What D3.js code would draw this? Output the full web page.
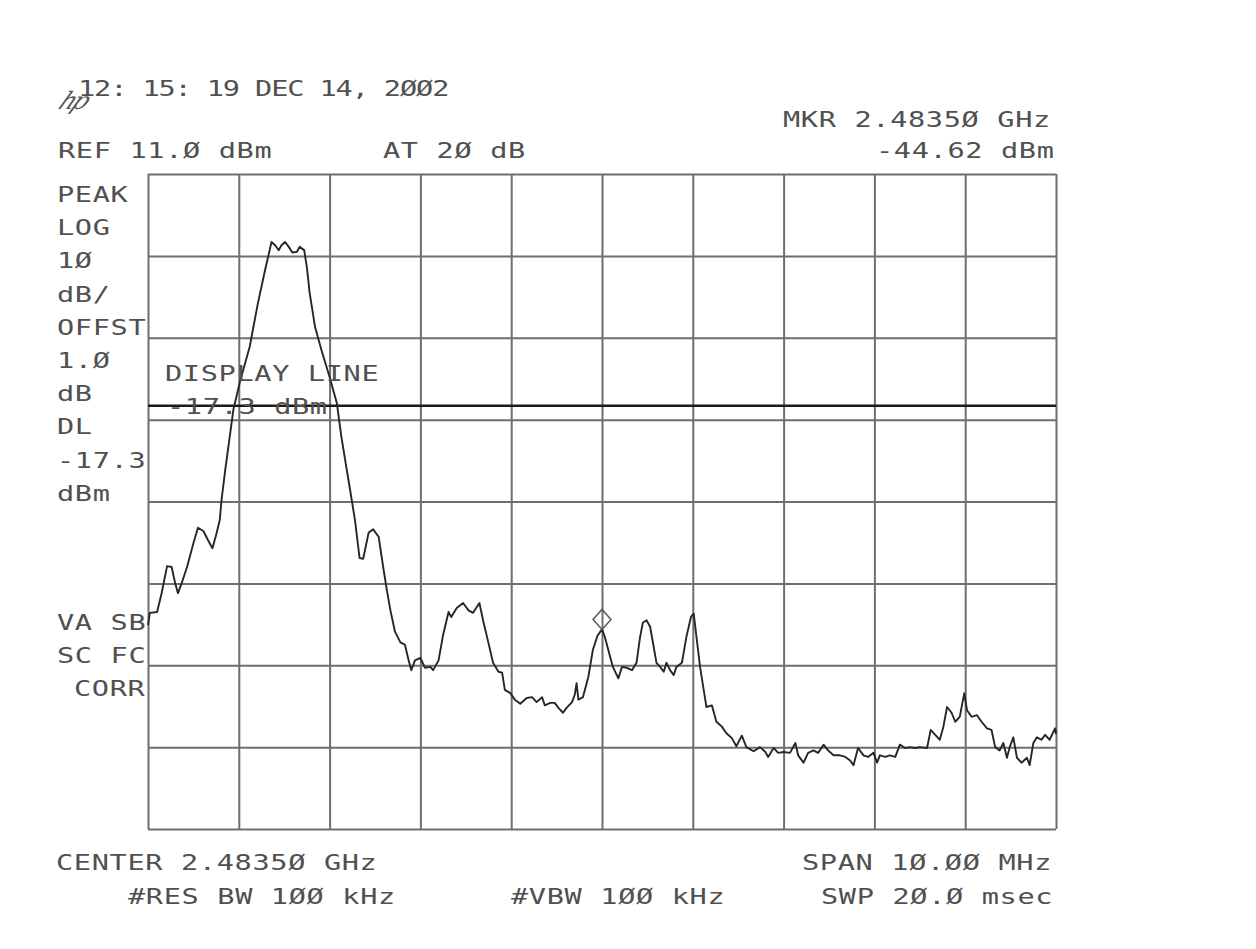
<!DOCTYPE html>
<html>
<head>
<meta charset="utf-8">
<script src="https://cdn.jsdelivr.net/npm/d3@7"></script>
<style>
  body { margin: 0; background: #ffffff; }
  svg { display: block; }
  .lbl { font-family: "DejaVu Sans Mono", "Liberation Mono", monospace; font-size: 22px; fill: #505050; letter-spacing: 0.5px; }
</style>
</head>
<body>
<svg id="chart" width="1256" height="949"></svg>
<script>
// Swept spectrum trace: frequency (MHz) and level (dBm)
const traceFreqMHz = [
  2478.50, 2478.52, 2478.60, 2478.65, 2478.71, 2478.76, 2478.80, 2478.83, 2478.87, 2478.93,
  2479.00, 2479.05, 2479.11, 2479.16, 2479.21, 2479.25, 2479.29, 2479.31, 2479.35, 2479.44,
  2479.51, 2479.62, 2479.71, 2479.79, 2479.84, 2479.86, 2479.90, 2479.94, 2479.97, 2480.01,
  2480.05, 2480.09, 2480.14, 2480.17, 2480.22, 2480.25, 2480.28, 2480.34, 2480.41, 2480.50,
  2480.58, 2480.63, 2480.69, 2480.72, 2480.78, 2480.83, 2480.87, 2480.93, 2480.98, 2481.04,
  2481.09, 2481.13, 2481.17, 2481.22, 2481.28, 2481.33, 2481.37, 2481.40, 2481.44, 2481.50,
  2481.55, 2481.61, 2481.64, 2481.70, 2481.75, 2481.81, 2481.84, 2481.90, 2481.97, 2482.03,
  2482.08, 2482.15, 2482.19, 2482.25, 2482.30, 2482.36, 2482.40, 2482.43, 2482.49, 2482.54,
  2482.60, 2482.67, 2482.73, 2482.78, 2482.84, 2482.87, 2482.93, 2482.98, 2483.02, 2483.07,
  2483.11, 2483.17, 2483.20, 2483.22, 2483.24, 2483.29, 2483.35, 2483.40, 2483.45, 2483.50,
  2483.53, 2483.59, 2483.62, 2483.68, 2483.72, 2483.77, 2483.83, 2483.88, 2483.92, 2483.95,
  2483.99, 2484.03, 2484.07, 2484.10, 2484.14, 2484.18, 2484.21, 2484.25, 2484.29, 2484.32,
  2484.38, 2484.43, 2484.48, 2484.51, 2484.54, 2484.58, 2484.62, 2484.65, 2484.71, 2484.76,
  2484.82, 2484.87, 2484.93, 2484.98, 2485.04, 2485.09, 2485.17, 2485.24, 2485.30, 2485.33,
  2485.39, 2485.44, 2485.50, 2485.57, 2485.63, 2485.66, 2485.72, 2485.77, 2485.83, 2485.88,
  2485.94, 2485.99, 2486.05, 2486.12, 2486.18, 2486.23, 2486.27, 2486.32, 2486.38, 2486.43,
  2486.49, 2486.53, 2486.56, 2486.62, 2486.67, 2486.73, 2486.78, 2486.84, 2486.89, 2486.95,
  2487.00, 2487.08, 2487.12, 2487.17, 2487.22, 2487.26, 2487.30, 2487.35, 2487.39, 2487.44,
  2487.49, 2487.52, 2487.57, 2487.63, 2487.68, 2487.74, 2487.79, 2487.83, 2487.88, 2487.92,
  2487.96, 2487.99, 2488.03, 2488.07, 2488.12, 2488.18, 2488.21, 2488.25, 2488.29, 2488.34,
  2488.38, 2488.43, 2488.49, 2488.50
];
const traceLevelDbm = [
  -44.1, -42.6, -42.5, -40.2, -36.9, -37.0, -39.0, -40.2, -39.0, -37.0,
  -34.1, -32.2, -32.6, -33.7, -34.7, -33.1, -31.3, -28.8, -25.2, -17.8,
  -14.5, -10.1,  -4.8,  -0.7,   1.7,   2.7,   2.3,   1.7,   2.3,   2.7,
    2.1,   1.4,   1.5,   2.1,   1.7,  -0.4,  -3.5,  -7.7, -10.5, -13.8,
  -17.0, -21.1, -25.2, -27.2, -31.3, -35.9, -36.0, -32.8, -32.4, -33.3,
  -37.0, -39.8, -42.3, -44.9, -46.2, -46.5, -48.4, -49.6, -48.4, -48.1,
  -49.3, -49.2, -49.6, -48.4, -45.3, -42.5, -43.1, -42.0, -41.4, -42.3,
  -42.6, -41.4, -43.5, -46.3, -48.7, -49.8, -49.9, -52.0, -52.4, -53.2,
  -53.7, -53.0, -52.9, -53.5, -52.9, -53.9, -53.6, -53.6, -54.2, -54.8,
  -54.2, -53.5, -52.6, -51.2, -53.2, -52.9, -50.4, -47.1, -45.4, -44.62,
  -45.5, -48.0, -49.2, -50.6, -49.2, -49.3, -49.6, -48.7, -45.5, -43.8,
  -43.5, -44.3, -46.8, -48.7, -49.2, -49.8, -48.7, -49.6, -50.2, -49.2,
  -48.7, -45.5, -43.1, -42.7, -45.5, -49.2, -52.0, -54.1, -53.9, -55.9,
  -56.5, -57.3, -57.9, -58.9, -57.6, -59.0, -59.5, -59.0, -59.6, -60.2,
  -59.1, -59.7, -59.6, -59.7, -58.5, -60.0, -60.9, -59.7, -59.4, -59.7,
  -58.7, -59.4, -60.0, -60.0, -60.2, -60.6, -61.2, -59.1, -60.0, -60.2,
  -59.7, -60.9, -60.0, -60.2, -60.0, -60.2, -58.7, -59.1, -59.0, -59.1,
  -59.0, -59.1, -56.9, -57.5, -58.1, -56.5, -54.1, -54.8, -55.9, -55.3,
  -52.4, -54.5, -55.3, -55.1, -55.9, -56.7, -56.9, -59.0, -59.4, -58.5,
  -60.3, -59.0, -57.8, -60.3, -60.9, -60.3, -61.2, -58.5, -57.8, -58.1,
  -57.5, -58.1, -56.7, -57.4
];

// Instrument settings
const refLevelDbm = 11.0;
const dbPerDiv = 10;
const vertDivs = 8;
const centerMHz = 2483.5;
const spanMHz = 10;
const horzDivs = 10;
const displayLineDbm = -17.3;
const markerFreqMHz = 2483.5;
const markerLevelDbm = -44.62;

// Annotation text
const timestampText = "12: 15: 19 DEC 14,  2ØØ2";
const headerLeft = ["REF 11.Ø dBm", "AT 2Ø dB"];
const markerText = ["MKR 2.4835Ø GHz", "-44.62 dBm"];
const statusUpper = ["PEAK", "LOG", "1Ø", "dB/", "OFFST", "1.Ø", "dB", "DL", "-17.3", "dBm"];
const statusLower = ["VA SB", "SC FC", "CORR"];
const displayLineText = ["DISPLAY LINE", "-17.3 dBm"];
const footerRow1 = ["CENTER 2.4835Ø GHz", "SPAN 1Ø.ØØ MHz"];
const footerRow2 = ["#RES BW 1ØØ kHz", "#VBW 1ØØ kHz", "SWP 2Ø.Ø msec"];

const svg = d3.select("#chart");
const plot = { left: 148, right: 1056, top: 174, bottom: 829 };

const x = d3.scaleLinear()
  .domain([centerMHz - spanMHz / 2, centerMHz + spanMHz / 2])
  .range([plot.left, plot.right]);
const y = d3.scaleLinear()
  .domain([refLevelDbm - dbPerDiv * vertDivs, refLevelDbm])
  .range([plot.bottom, plot.top]);

const xDivs = d3.range(horzDivs + 1).map(i => x.domain()[0] + i * spanMHz / horzDivs);
const yDivs = d3.range(vertDivs + 1).map(i => refLevelDbm - i * dbPerDiv);

const gridColor = "#6e6e6e";

// Graticule drawn with axes whose ticks span the screen
const gx = svg.append("g")
  .attr("transform", `translate(0,${plot.bottom})`)
  .call(d3.axisBottom(x).tickValues(xDivs).tickSize(-(plot.bottom - plot.top)).tickFormat(""));
const gy = svg.append("g")
  .attr("transform", `translate(${plot.left},0)`)
  .call(d3.axisLeft(y).tickValues(yDivs).tickSize(-(plot.right - plot.left)).tickFormat(""));
[gx, gy].forEach(g => {
  g.select(".domain").remove();
  g.selectAll(".tick line").attr("stroke", gridColor).attr("stroke-width", 2);
});

// Display line
svg.append("line")
  .attr("x1", x.range()[0]).attr("x2", x.range()[1])
  .attr("y1", y(displayLineDbm)).attr("y2", y(displayLineDbm))
  .attr("stroke", "#1a1a1a").attr("stroke-width", 2.6);

// Trace
const trace = traceFreqMHz.map((f, i) => [f, traceLevelDbm[i]]);
svg.append("path")
  .datum(trace)
  .attr("fill", "none")
  .attr("stroke", "#262626")
  .attr("stroke-width", 1.9)
  .attr("stroke-linejoin", "round")
  .attr("d", d3.line().x(d => x(d[0])).y(d => y(d[1])));

// Marker diamond resting on the marked point
const mx = x(markerFreqMHz), my = y(markerLevelDbm);
svg.append("path")
  .attr("d", `M${mx},${my} L${mx + 9},${my - 10} L${mx},${my - 20} L${mx - 9},${my - 10} Z`)
  .attr("fill", "none").attr("stroke", "#5a5a5a").attr("stroke-width", 1.5);

// Plotter lettering: wide glyphs, made by stretching a monospace face
const stretch = 1.3;
function label(px, py, txt) {
  return svg.append("text")
    .attr("class", "lbl")
    .attr("transform", `translate(${px},${py}) scale(${stretch},1)`)
    .text(txt);
}

// Header
label(78, 96, timestampText).attr("textLength", 372 / stretch).attr("lengthAdjust", "spacing");
svg.append("text")
  .attr("transform", "translate(57,109) skewX(-28)")
  .attr("font-family", "DejaVu Serif, serif")
  .attr("font-style", "italic")
  .attr("font-size", 24)
  .attr("fill", "#555")
  .attr("letter-spacing", -3)
  .text("hp");
label(58, 158, headerLeft[0]);
label(383, 158, headerLeft[1]);
label(783, 127, markerText[0]);
label(876, 158, markerText[1]);

// Status annotations on the left
statusUpper.forEach((t, i) => label(57, 202 + i * 33.2, t));
statusLower.forEach((t, i) => label(t === "CORR" ? 74 : 57, 630 + i * 33.2, t));

// Display line annotation
label(165, 381, displayLineText[0]);
label(167, 414, displayLineText[1]);

// Footer
label(56, 870, footerRow1[0]);
label(802, 870, footerRow1[1]);
label(128, 904, footerRow2[0]);
label(511, 904, footerRow2[1]);
label(821, 904, footerRow2[2]);
</script>
</body>
</html>
